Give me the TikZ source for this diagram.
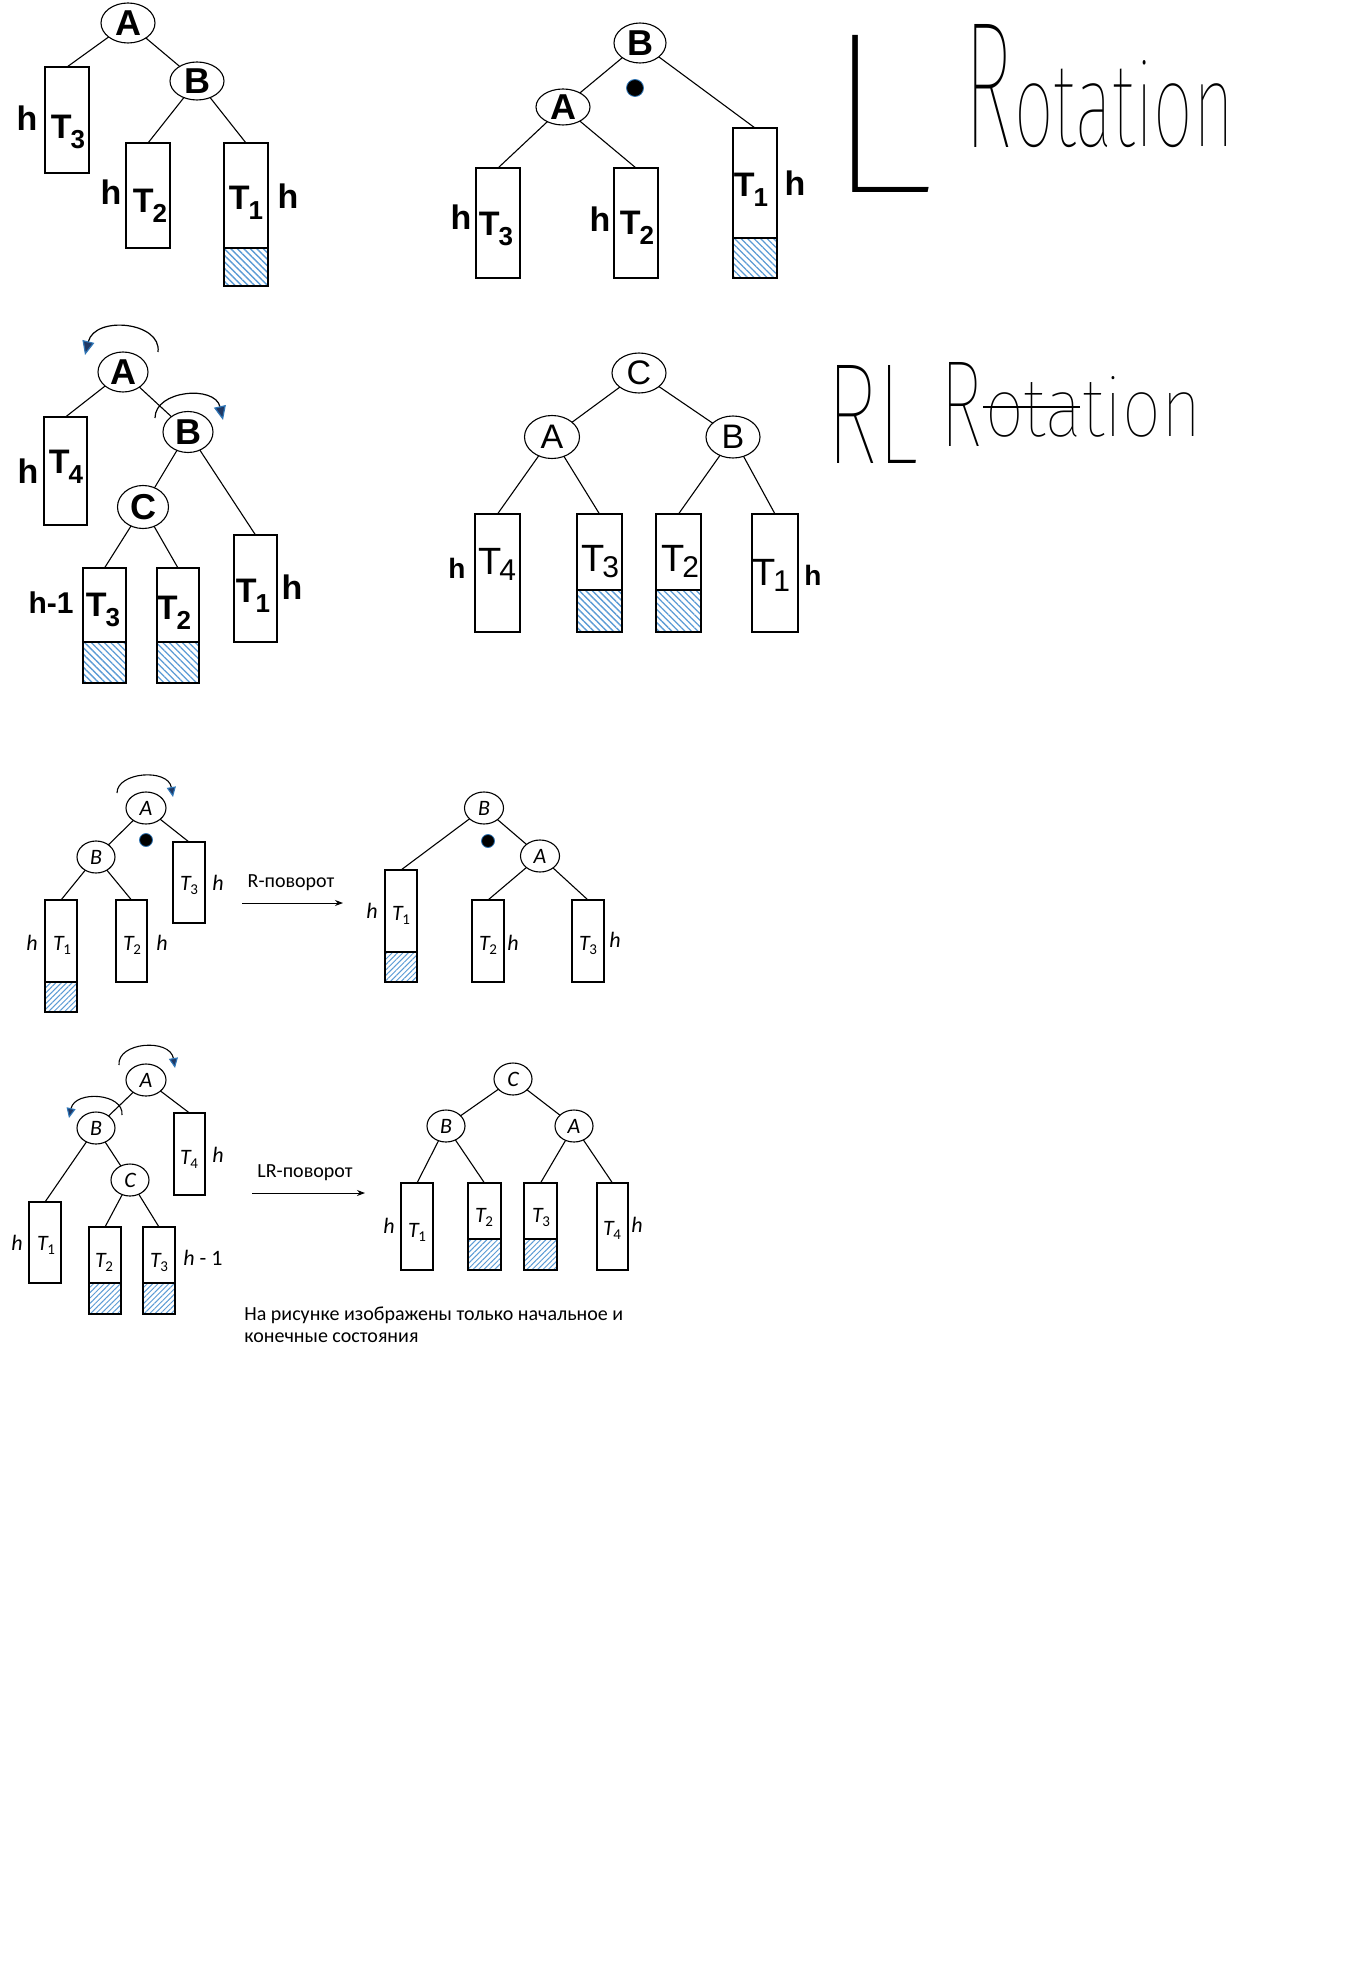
\documentclass[tikz,border=0pt]{standalone}
\usepackage{fontspec}
\setmainfont{Carlito}
\newfontfamily\hbf{Liberation Sans}
\newfontfamily\thinf{Fira Sans Thin}
\usetikzlibrary{shapes.geometric,arrows.meta,patterns.meta}
\definecolor{hatch}{HTML}{5B9BD5}
\definecolor{navy}{HTML}{1F3864}
\definecolor{tipedge}{HTML}{2E75B6}
\newcommand\tbox[5]{\node[treebox, minimum width={(#4-#2)*0.5pt}, minimum height={(#5-#3)*0.5pt}] (#1) at ({(#2+#4)/2},{(#3+#5)/2}) {};}
\newcommand\hatchbox[6]{\node[treebox, #6, minimum width={(#4-#2)*0.5pt}, minimum height={(#5-#3)*0.5pt}] (#1) at ({(#2+#4)/2},{(#3+#5)/2}) {};}
\newcommand\ellnode[7]{\node[ellip, minimum width={#4*0.5pt}, minimum height={#5*0.5pt}] (#1) at (#2,#3) {};
  \node[#6] (#1t) at (#1.center) {#7};}
\newcommand\HT[1]{T\kern-0.5pt\lower5pt\hbox{\fontsize{13}{13}\selectfont #1}}
\newcommand\HTr[1]{T\kern-1pt\lower3pt\hbox{\fontsize{15}{15}\selectfont #1}}
\newcommand\TT[1]{{\itshape T}\kern-0.2pt\lower2pt\hbox{\fontsize{7.5}{7.5}\selectfont\upshape #1}}
\begin{document}
\begin{tikzpicture}[x=0.5pt,y=-0.5pt,
  treebox/.style={draw, rectangle, line width=0.6pt, inner sep=0pt, outer sep=0pt},
  hatchA/.style={pattern={Lines[angle=-45,distance=2.3pt,line width=0.65pt]}, pattern color=hatch},
  hatchB/.style={pattern={Lines[angle=45,distance=1.9pt,line width=0.5pt]}, pattern color=hatch},
  ellip/.style={ellipse, draw, line width=0.55pt, inner sep=0pt, outer sep=0pt},
  edge/.style={line width=0.55pt},
  rotT/.style={line width=0.6pt, -{Triangle[length=7pt,width=6pt,color=tipedge,fill=navy]}},
  rotB/.style={line width=0.55pt, -{Triangle[length=5pt,width=4.5pt,color=tipedge,fill=navy]}},
  arr/.style={line width=0.5pt, -{Stealth[length=4pt,width=3pt]}},
  dotn/.style={circle, fill=black, draw=tipedge, line width=0.4pt, inner sep=0pt},
  hL/.style={inner sep=0pt, font=\hbf\bfseries\fontsize{18}{18}\selectfont},
  hLr/.style={inner sep=0pt, font=\hbf\fontsize{17}{17}\selectfont},
  hH/.style={inner sep=0pt, font=\hbf\bfseries\fontsize{17}{17}\selectfont},
  hHm/.style={inner sep=0pt, font=\hbf\bfseries\fontsize{15}{15}\selectfont},
  hHs/.style={inner sep=0pt, font=\hbf\bfseries\fontsize{14}{14}\selectfont},
  hT/.style={inner sep=0pt, font=\hbf\bfseries\fontsize{17}{17}\selectfont},
  hTr/.style={inner sep=0pt, font=\hbf\fontsize{19}{19}\selectfont},
  lt/.style={inner sep=0pt, font=\fontsize{11}{11}\selectfont\itshape},
  txt/.style={inner sep=0pt, font=\fontsize{10}{11.2}\selectfont},
  ttl/.style={inner sep=0pt, outer sep=0pt, font=\thinf}
]
\useasboundingbox (0,0) rectangle (1366,1963);
\fill[white] (0,0) rectangle (1366,1963);

% ---------- Tree 1 (L rotation, before)
\ellnode{nA1}{128}{23}{54}{40}{hL}{A}
\ellnode{nB1}{197}{81}{54}{38}{hL}{B}
\tbox{t3a}{45}{67}{89}{173}
\tbox{t2a}{126}{143}{170}{248}
\tbox{t1a}{224}{143}{268}{248}
\hatchbox{h1a}{224}{248}{268}{286}{hatchA}
\draw[edge] (nA1) -- (t3a.north);
\draw[edge] (nA1) -- (nB1);
\draw[edge] (nB1) -- (t2a.north);
\draw[edge] (nB1) -- (t1a.north);
\node[hH] (l1a) at (27,118) {h};
\node[hT] (l1b) at (68,132) {\HT{3}};
\node[hH] (l1c) at (111,192) {h};
\node[hT] (l1d) at (150,206) {\HT{2}};
\node[hT] (l1e) at (246,203) {\HT{1}};
\node[hH] (l1f) at (288,196) {h};

% ---------- Tree 2 (L rotation, after)
\ellnode{nB2}{640}{43}{52}{40}{hL}{B}
\node[dotn, minimum size=8.5pt] (d2) at (635,88) {};
\ellnode{nA2}{563}{107}{54}{36}{hL}{A}
\tbox{t3b}{476}{168}{520}{278}
\tbox{t2b}{614}{168}{658}{278}
\tbox{t1b}{733}{128}{777}{238}
\hatchbox{h1b}{733}{238}{777}{278}{hatchA}
\draw[edge] (nB2) -- (nA2);
\draw[edge] (nB2) -- (t1b.north);
\draw[edge] (nA2) -- (t3b.north);
\draw[edge] (nA2) -- (t2b.north);
\node[hH] (l2a) at (461,217) {h};
\node[hT] (l2b) at (496,229) {\HT{3}};
\node[hH] (l2c) at (600,219) {h};
\node[hT] (l2d) at (637,228) {\HT{2}};
\node[hT] (l2e) at (751,190) {\HT{1}};
\node[hH] (l2f) at (795,183) {h};

% ---------- Tree 3 (RL rotation, before)
\ellnode{nA3}{123}{372}{50}{40}{hL}{A}
\ellnode{nB3}{188}{432}{50}{41}{hL}{B}
\ellnode{nC3}{143}{507}{51}{43}{hL}{C}
\coordinate (a3s) at (158,352);
\coordinate (a3e) at (85,355);
\draw[rotT] (a3s) .. controls (162,322) and (95,315) .. (a3e);
\coordinate (b3s) at (155,418);
\coordinate (b3e) at (223,420);
\draw[rotT] (b3s) .. controls (155,390) and (215,385) .. (b3e);
\tbox{t4c}{44}{417}{87}{525}
\tbox{t1c}{234}{535}{277}{642}
\tbox{t3c}{83}{568}{126}{642}
\hatchbox{h3c}{83}{642}{126}{683}{hatchA}
\tbox{t2c}{157}{568}{199}{642}
\hatchbox{h2c}{157}{642}{199}{683}{hatchA}
\draw[edge] (nA3) -- (t4c.north);
\draw[edge] (nA3) -- (nB3);
\draw[edge] (nB3) -- (nC3);
\draw[edge] (nB3) -- (t1c.north);
\draw[edge] (nC3) -- (t3c.north);
\draw[edge] (nC3) -- (t2c.north);
\node[hH] (l3a) at (28,471) {h};
\node[hT] (l3b) at (66,467) {\HT{4}};
\node[hHm] (l3c) at (51,603) {h-1};
\node[hT] (l3d) at (103,610) {\HT{3}};
\node[hT] (l3e) at (174,613) {\HT{2}};
\node[hT] (l3f) at (253,596) {\HT{1}};
\node[hH] (l3g) at (292,587) {h};

% ---------- Tree 4 (RL rotation, after)
\ellnode{nC4}{639}{373}{54}{40}{hLr}{C}
\ellnode{nA4}{552}{437}{55}{43}{hLr}{A}
\ellnode{nB4}{733}{437}{54}{42}{hLr}{B}
\tbox{t4d}{475}{514}{520}{632}
\tbox{t3d}{577}{514}{622}{590}
\hatchbox{h3d}{577}{590}{622}{632}{hatchA}
\tbox{t2d}{656}{514}{701}{590}
\hatchbox{h2d}{656}{590}{701}{632}{hatchA}
\tbox{t1d}{752}{514}{798}{632}
\draw[edge] (nC4) -- (nA4);
\draw[edge] (nC4) -- (nB4);
\draw[edge] (nA4) -- (t4d.north);
\draw[edge] (nA4) -- (t3d.north);
\draw[edge] (nB4) -- (t2d.north);
\draw[edge] (nB4) -- (t1d.north);
\node[hHs] (l4a) at (457,568) {h};
\node[hTr] (l4b) at (497,564) {\HTr{4}};
\node[hTr] (l4c) at (600,562) {\HTr{3}};
\node[hTr] (l4d) at (680,561) {\HTr{2}};
\node[hTr] (l4e) at (771,575) {\HTr{1}};
\node[hHs] (l4f) at (813,575) {h};

% ---------- Handwritten titles
\node[ttl] (ttlL) at (878.5,113.5) {\resizebox{56pt}{78.5pt}{L}};
\node[ttl, anchor=south west] (ttlR1a) at (964,148) {\resizebox{24pt}{61.5pt}{R}};
\node[ttl, anchor=south west] (ttlR1b) at (1014,148) {\resizebox{110pt}{43pt}{otation}};
\node[ttl] (ttlRL) at (872,414) {\resizebox{46pt}{49pt}{RL}};
\node[ttl, anchor=south west] (ttlR2a) at (940,446) {\resizebox{21pt}{42pt}{R}};
\node[ttl, anchor=south west] (ttlR2b) at (985,437) {\resizebox{108pt}{30pt}{otation}};
\draw[line width=1.2pt] (983,407) -- (1080,407);

% ---------- Tree 5 (R rotation, before)
\ellnode{nA5}{146}{808}{40}{32}{lt}{A}
\coordinate (a5s) at (117,793);
\coordinate (a5e) at (173,797);
\draw[rotB] (a5s) .. controls (117,772) and (168,768) .. (a5e);
\node[dotn, minimum size=6.5pt] (d5) at (146,840) {};
\ellnode{nB5}{96}{857}{38}{32}{lt}{B}
\tbox{t3e}{173}{842}{205}{923}
\tbox{t1e}{45}{900}{77}{982}
\hatchbox{h1e}{45}{982}{77}{1012}{hatchB}
\tbox{t2e}{116}{900}{147}{982}
\draw[edge] (nA5) -- (nB5);
\draw[edge] (nA5) -- (t3e.north);
\draw[edge] (nB5) -- (t1e.north);
\draw[edge] (nB5) -- (t2e.north);
\node[lt] (l5a) at (189,885) {\TT{3}};
\node[lt] (l5b) at (218,883) {h};
\node[lt] (l5c) at (32,943) {h};
\node[lt] (l5d) at (62,945) {\TT{1}};
\node[lt] (l5e) at (132,945) {\TT{2}};
\node[lt] (l5f) at (162,943) {h};
\coordinate (ar1s) at (242,903);
\coordinate (ar1e) at (343,903);
\draw[arr] (ar1s) -- (ar1e);
\node[txt] (rlab) at (291,883) {R-поворот};

% ---------- Tree 6 (R rotation, after)
\ellnode{nB6}{484}{808}{39}{32}{lt}{B}
\node[dotn, minimum size=6.5pt] (d6) at (488,841) {};
\ellnode{nA6}{540}{856}{39}{32}{lt}{A}
\tbox{t1f}{385}{870}{417}{952}
\hatchbox{h1f}{385}{952}{417}{982}{hatchB}
\tbox{t2f}{472}{900}{504}{982}
\tbox{t3f}{572}{900}{604}{982}
\draw[edge] (nB6) -- (t1f.north);
\draw[edge] (nB6) -- (nA6);
\draw[edge] (nA6) -- (t2f.north);
\draw[edge] (nA6) -- (t3f.north);
\node[lt] (l6a) at (372,911) {h};
\node[lt] (l6b) at (401,915) {\TT{1}};
\node[lt] (l6c) at (488,945) {\TT{2}};
\node[lt] (l6d) at (513,943) {h};
\node[lt] (l6e) at (588,945) {\TT{3}};
\node[lt] (l6f) at (615,940) {h};

% ---------- Tree 7 (LR rotation, before)
\ellnode{nA7}{146}{1080}{40}{32}{lt}{A}
\coordinate (a7s) at (119,1065);
\coordinate (a7e) at (175,1068);
\draw[rotB] (a7s) .. controls (117,1042) and (170,1038) .. (a7e);
\ellnode{nB7}{96}{1128}{38}{32}{lt}{B}
\coordinate (b7s) at (122,1115);
\coordinate (b7e) at (69,1118);
\draw[rotB] (b7s) .. controls (124,1093) and (75,1090) .. (b7e);
\ellnode{nC7}{130}{1180}{38}{32}{lt}{C}
\tbox{t4g}{174}{1113}{205}{1195}
\tbox{t1g}{29}{1202}{61}{1283}
\tbox{t2g}{89}{1227}{121}{1283}
\hatchbox{h2g}{89}{1283}{121}{1314}{hatchB}
\tbox{t3g}{143}{1227}{175}{1283}
\hatchbox{h3g}{143}{1283}{175}{1314}{hatchB}
\draw[edge] (nA7) -- (nB7);
\draw[edge] (nA7) -- (t4g.north);
\draw[edge] (nB7) -- (t1g.north);
\draw[edge] (nB7) -- (nC7);
\draw[edge] (nC7) -- (t2g.north);
\draw[edge] (nC7) -- (t3g.north);
\node[lt] (l7a) at (17,1243) {h};
\node[lt] (l7b) at (46,1245) {\TT{1}};
\node[lt] (l7c) at (104,1262) {\TT{2}};
\node[lt] (l7d) at (159,1262) {\TT{3}};
\node[lt] (l7e) at (203,1258) {h\upshape\ - 1};
\node[lt] (l7f) at (189,1159) {\TT{4}};
\node[lt] (l7g) at (218,1155) {h};
\coordinate (ar2s) at (252,1193);
\coordinate (ar2e) at (365,1193);
\draw[arr] (ar2s) -- (ar2e);
\node[txt] (lrlab) at (305,1173) {LR-поворот};

% ---------- Tree 8 (LR rotation, after)
\ellnode{nC8}{513}{1079}{38}{32}{lt}{C}
\ellnode{nB8}{446}{1126}{38}{32}{lt}{B}
\ellnode{nA8}{574}{1126}{38}{32}{lt}{A}
\tbox{t1h}{401}{1183}{433}{1270}
\tbox{t2h}{468}{1183}{501}{1239}
\hatchbox{h2h}{468}{1239}{501}{1270}{hatchB}
\tbox{t3h}{524}{1183}{557}{1239}
\hatchbox{h3h}{524}{1239}{557}{1270}{hatchB}
\tbox{t4h}{597}{1183}{628}{1270}
\draw[edge] (nC8) -- (nB8);
\draw[edge] (nC8) -- (nA8);
\draw[edge] (nB8) -- (t1h.north);
\draw[edge] (nB8) -- (t2h.north);
\draw[edge] (nA8) -- (t3h.north);
\draw[edge] (nA8) -- (t4h.north);
\node[lt] (l8a) at (389,1226) {h};
\node[lt] (l8b) at (417,1232) {\TT{1}};
\node[lt] (l8c) at (484,1217) {\TT{2}};
\node[lt] (l8d) at (541,1217) {\TT{3}};
\node[lt] (l8e) at (612,1230) {\TT{4}};
\node[lt] (l8f) at (637,1225) {h};

\node[txt, anchor=north west, align=left] (note) at (244,1306) {На рисунке изображены только начальное и\\конечные состояния};
\end{tikzpicture}
\end{document}
